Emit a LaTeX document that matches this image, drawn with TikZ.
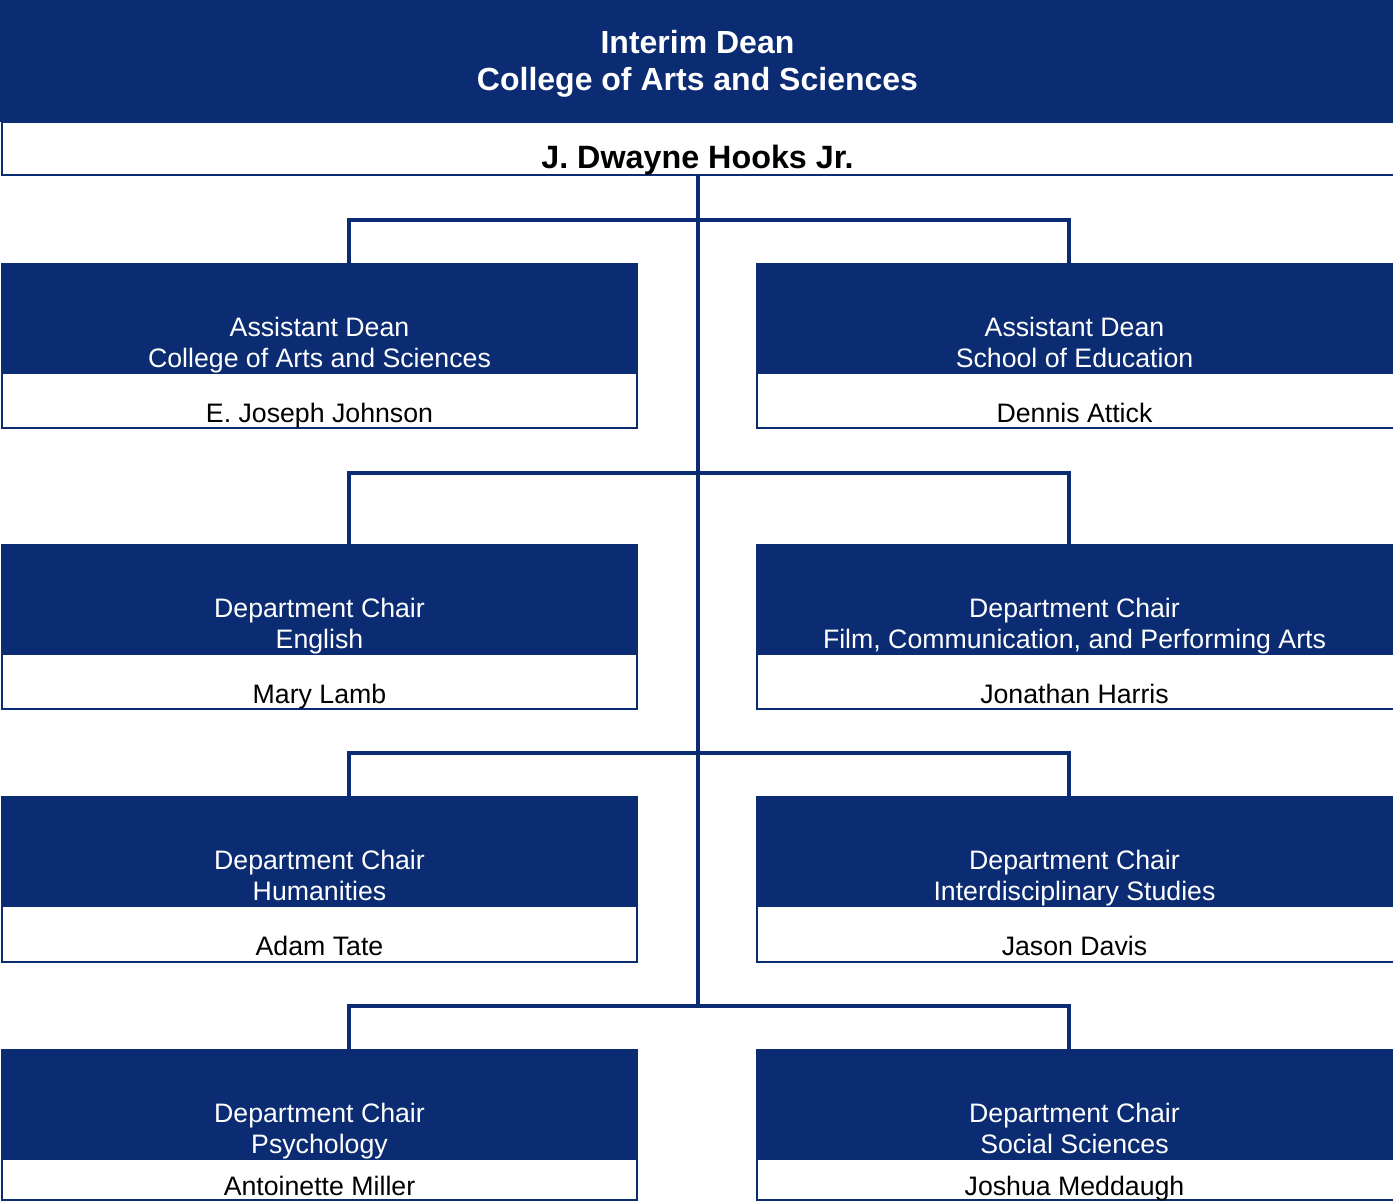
\documentclass[tikz,border=0pt]{standalone}
\usepackage{fontspec}
\setmainfont{Liberation Sans}
\definecolor{navy}{HTML}{0B2C72}
\tikzset{
  bluefill/.style={fill=navy, draw=none, inner sep=0pt, outer sep=0pt},
  frame/.style={draw=navy, line width=1.6pt, fill=white, inner sep=0pt, outer sep=0pt},
  conn/.style={draw=navy, line width=3.8pt},
  ttl/.style={text=white, font=\bfseries\fontsize{32}{37}\selectfont, anchor=base, inner sep=0pt},
  boss/.style={text=black, font=\bfseries\fontsize{32.3}{37}\selectfont, anchor=base, inner sep=0pt},
  role/.style={text=white, font=\fontsize{26.7}{31}\selectfont, anchor=base, inner sep=0pt},
  person/.style={text=black, font=\fontsize{26.7}{31}\selectfont, anchor=base, inner sep=0pt},
}
% #1 name, #2 left x, #3 top y, #4 line1, #5 line2, #6 person, #7 frame width, #8 frame height, #9 person baseline offset
\newcommand\orgbox[9]{%
  \node[frame, minimum width=#7pt, minimum height=#8pt, anchor=north west] (#1f) at (#2,#3) {};
  \node[bluefill, minimum width=#7pt+2pt, minimum height=110.5pt, anchor=north west] (#1) at (#2-1,#3-0.8) {};
  \node[role] (#1a) at (#2+317.5,#3+72.3) {#4};
  \node[role] (#1b) at (#2+317.5,#3+103) {#5};
  \node[person] (#1p) at (#2+317.5,#3+#9) {#6};
}
\begin{document}
\begin{tikzpicture}[x=1pt,y=-1pt]
\useasboundingbox[fill=white] (0,0) rectangle (1393,1203);

% top box
\node[frame, minimum width=1393pt, minimum height=53pt, anchor=north west] (deanf) at (2,122) {};
\node[bluefill, minimum width=1393pt, minimum height=122pt, anchor=north west] (dean) at (0,0) {};
\node[ttl] (deant1) at (697.5,53) {Interim Dean};
\node[ttl] (deant2) at (697.5,90) {College of Arts and Sciences};
\node[boss] (deanp) at (697.5,168) {J. Dwayne Hooks Jr.};

% boxes
\orgbox{aL}{2}{264}{Assistant Dean}{College of Arts and Sciences}{E. Joseph Johnson}{635}{164}{158.3}
\orgbox{aR}{757}{264}{Assistant Dean}{School of Education}{Dennis Attick}{642}{164}{158.3}
\orgbox{bL}{2}{545}{Department Chair}{English}{Mary Lamb}{635}{164}{158.3}
\orgbox{bR}{757}{545}{Department Chair}{Film, Communication, and Performing Arts}{Jonathan Harris}{642}{164}{158.3}
\orgbox{cL}{2}{797}{Department Chair}{Humanities}{Adam Tate}{635}{165}{158.3}
\orgbox{cR}{757}{797}{Department Chair}{Interdisciplinary Studies}{Jason Davis}{642}{165}{158.3}
\orgbox{dL}{2}{1050}{Department Chair}{Psychology}{Antoinette Miller}{635}{150}{145}
\orgbox{dR}{757}{1050}{Department Chair}{Social Sciences}{Joshua Meddaugh}{642}{150}{145}

% connectors
\coordinate (j1) at (698,220);
\coordinate (j2) at (698,473);
\coordinate (j3) at (698,753);
\coordinate (j4) at (698,1006);
\draw[conn, line width=4pt] (deanf.south -| j1) -- (j4);
\draw[conn] ([xshift=347pt]aLf.north west) |- (j1) -| ([xshift=312pt]aRf.north west);
\draw[conn] ([xshift=347pt]bLf.north west) |- (j2) -| ([xshift=312pt]bRf.north west);
\draw[conn] ([xshift=347pt]cLf.north west) |- (j3) -| ([xshift=312pt]cRf.north west);
\draw[conn] ([xshift=347pt]dLf.north west) |- (j4) -| ([xshift=312pt]dRf.north west);
\end{tikzpicture}
\end{document}
